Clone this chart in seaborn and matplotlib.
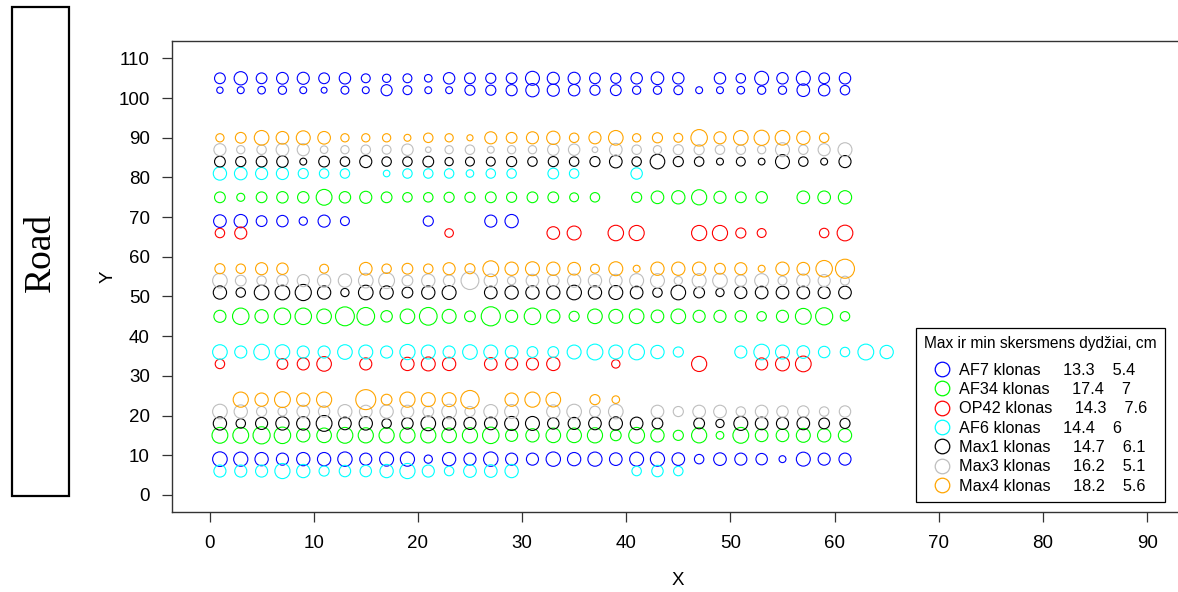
import numpy as np
import pandas as pd
import matplotlib
matplotlib.use("Agg")
import matplotlib.pyplot as plt
from matplotlib.lines import Line2D
from matplotlib.patches import Rectangle
import seaborn as sns

nan = np.nan

# Tree positions along the rows (X) – every second metre
x_pos = list(range(1, 62, 2))
x_pos_long = list(range(1, 66, 2))

# Clones, their colours and the max / min stem diameter (cm)
clones = ["AF7", "AF34", "OP42", "AF6", "Max1", "Max3", "Max4"]
colors = ["#0000FF", "#00FF00", "#FF0000", "#00FFFF", "#000000", "#BEBEBE", "#FFA500"]
max_diam = [13.3, 17.4, 14.3, 14.4, 14.7, 16.2, 18.2]
min_diam = [5.4, 7, 7.6, 6, 6.1, 5.1, 5.6]

# Stem diameters (cm) per planting row; nan = no tree
af7_y105 = [9.8, 12.1, 9.8, 10.7, 11.0, 9.8, 10.4, 8.1, 7.5, 8.1, 6.9, 10.4, 9.8, 9.2, 9.8,
            12.7, 11.0, 11.0, 9.8, 9.2, 10.4, 11.5, 10.4, nan, 10.4, 8.6, 12.7, 10.4, 12.7, 9.8, 10.4]
af7_y102 = [5.8, 6.3, 6.9, 7.5, 6.3, 5.4, 7.2, 6.3, 10.1, 8.1, 6.3, 6.3, 9.2, 9.2, 10.1,
            12.1, 11.0, 10.4, 9.2, 9.8, 7.5, 7.5, 8.1, 6.3, 6.3, 6.9, 7.5, 7.5, 11.5, 10.4, 8.6]
af7_y69 = [11.5, 12.1, 9.8, 10.4, 7.5, 11.0, 8.1, nan, nan, nan, 9.2, nan, nan, 11.0, 12.1,
           nan, nan, nan, nan, nan, nan, nan, nan, nan, nan, nan, nan, nan, nan, nan, nan]
af7_y9 = [13.3, 12.9, 12.1, 11.0, 12.1, 12.1, 13.1, 11.0, 12.7, 12.9, 7.5, 12.1, 11.0, 13.1, 11.0,
          11.0, 13.1, 12.1, 12.9, 11.5, 12.7, 12.9, 11.5, 8.6, 11.5, 11.0, 10.4, 6.3, 12.7, 11.0, 11.0]

max4_y90 = [7.5, 9.8, 13.3, 11.5, 12.7, 11.5, 7.5, 7.5, 7.5, 6.3, 8.6, 7.5, 5.6, 11.0, 9.8,
            11.0, 12.1, 8.6, 11.0, 13.3, 7.5, 9.2, 8.1, 15.0, 11.0, 13.3, 13.8, 13.3, 12.1, 8.6, nan]
max4_y57 = [9.2, 8.6, 11.0, 10.4, nan, 8.1, nan, 11.5, 8.6, 9.8, 8.6, 11.0, 9.2, 14.4, 12.1,
            12.7, 12.1, 11.5, 8.1, 12.7, 6.3, 12.1, 12.1, 12.1, 9.8, 11.0, 6.3, 12.1, 11.5, 15.0, 17.3]
max4_y24 = [nan, 13.8, 12.1, 14.4, 12.1, 13.8, nan, 18.2, 9.8, 13.8, 12.7, 12.7, 16.7, nan, 12.1,
            13.8, 13.3, nan, 9.2, 6.9, nan, nan, nan, nan, nan, nan, nan, nan, nan, nan, nan]

max3_y87 = [11.0, 7.5, 8.6, 11.5, 11.0, 6.9, 7.5, 8.6, 8.1, 10.4, 5.1, 7.5, 8.6, 6.3, 7.5,
            7.5, 10.4, 10.4, 5.2, 11.5, 8.6, 7.5, 9.2, 9.2, 8.6, 8.6, 7.5, 12.7, 8.6, 11.0, 12.7]
max3_y54 = [13.3, 9.8, 8.6, 10.4, 11.0, 12.1, 12.1, 13.3, 14.4, 9.8, 12.1, 10.4, 16.2, 12.1, 7.5,
            11.5, 10.4, 12.1, 12.1, 11.5, 12.7, 12.7, 7.5, 12.7, 13.3, 10.4, 12.7, 8.1, 12.1, 11.0, 8.1]
max3_y21 = [13.3, 12.1, 9.2, 8.1, 11.5, 10.4, 12.7, 11.5, 12.1, 11.5, 9.8, 13.3, 9.2, 12.7, 12.7,
            nan, 12.1, 13.3, 9.8, 13.3, nan, 11.5, 9.2, 11.5, 11.5, 8.6, 11.5, 10.4, 10.4, 8.6, 10.4]

max1_y84 = [9.8, 9.2, 9.8, 10.4, 6.3, 9.8, 8.6, 11.0, 8.6, 8.6, 9.8, 7.5, 8.1, 8.1, 9.2,
            8.6, 9.2, 8.6, 9.2, 11.5, 8.6, 13.3, 9.2, 8.6, 6.3, 8.1, 6.1, 12.7, 8.6, 6.3, 11.0]
max1_y51 = [12.1, 8.6, 13.3, 13.3, 14.7, 12.1, 7.5, 13.3, 12.1, 9.8, 12.1, 12.7, nan, 11.5, 12.1,
            12.1, 12.1, 13.3, 12.1, 12.7, 11.5, 8.6, 13.3, 9.8, 7.5, 11.0, 11.5, 11.5, 11.5, 11.0, 11.5]
max1_y18 = [12.1, 8.6, 11.0, 12.1, 12.1, 14.4, 11.5, 12.1, 8.6, 10.4, 13.3, 12.1, 11.0, 11.5, 12.7,
            12.7, 10.4, 11.0, 11.5, 12.1, 11.5, 9.8, nan, 9.8, 7.5, 12.7, 11.5, 11.0, 11.5, 9.8, 9.2]

af6_y81 = [12.1, 11.5, 11.0, 11.0, 9.2, 8.6, 8.6, nan, 6.0, 8.6, 8.6, 8.6, 6.9, 8.6, 8.6,
           nan, 9.8, 8.6, nan, nan, 10.4, nan, nan, nan, nan, nan, nan, nan, nan, nan, nan]
af6_y36 = [13.3, 11.0, 14.2, 13.3, 11.0, 11.0, 13.3, 12.7, 11.0, 13.8, 12.7, 11.0, 13.3, 12.7, 11.5,
           9.8, 9.8, 12.7, 14.4, 12.7, 14.2, 12.1, 9.2, nan, nan, 11.0, 14.2, 12.7, 11.5, 10.4, 8.6,
           14.4, 12.1]
af6_y6 = [11.0, 11.0, 11.0, 13.8, 12.1, 9.2, 10.4, 10.4, 12.1, 13.8, 11.0, 8.6, 11.5, 11.5, 12.1,
          nan, nan, nan, nan, nan, 8.6, 10.4, 8.6, nan, nan, nan, nan, nan, nan, nan, nan]

af34_y75 = [9.8, 7.3, 9.8, 10.4, 10.4, 14.4, 10.4, 11.0, 9.8, 8.6, 8.6, 9.2, 9.2, 9.8, 9.2,
            9.8, 9.8, 8.1, 8.6, nan, 9.2, 11.5, 12.1, 13.8, 11.0, 9.8, 10.4, nan, 11.5, 11.5, 12.1]
af34_y45 = [11.0, 15.0, 12.1, 15.0, 15.0, 13.3, 17.2, 16.1, 10.4, 13.3, 16.1, 12.7, 9.8, 17.4, 11.0,
            15.0, 12.1, 9.2, 13.3, 12.7, 13.3, 11.5, 13.3, 11.0, 11.0, 10.4, 8.6, 11.0, 14.4, 15.6, 8.6]
af34_y15 = [14.4, 14.4, 15.6, 15.0, 12.1, 13.3, 14.4, 13.8, 13.8, 13.8, 13.8, 13.3, 13.8, 15.0, 11.0,
            12.1, 13.3, 13.3, 13.8, 9.8, 14.4, 12.1, 9.2, 13.8, 7.0, 14.4, 11.5, 11.5, 12.7, 12.1, 12.1]

op42_y66 = [8.6, 11.0, nan, nan, nan, nan, nan, nan, nan, nan, nan, 7.8, nan, nan, nan,
            nan, 11.5, 12.7, nan, 14.1, 13.8, nan, nan, 13.8, 13.8, 9.2, 8.1, nan, nan, 8.6, 14.3]
op42_y33 = [8.6, nan, nan, 9.8, 11.0, 13.3, nan, 11.0, nan, 12.1, 12.7, 12.1, nan, 11.5, 11.0,
            11.0, 12.1, nan, nan, 7.6, nan, nan, nan, 13.8, nan, nan, 11.0, 12.7, 14.3, nan, nan]

rows = [
    ("AF7", 105, af7_y105), ("AF7", 102, af7_y102), ("AF7", 69, af7_y69), ("AF7", 9, af7_y9),
    ("Max4", 90, max4_y90), ("Max4", 57, max4_y57), ("Max4", 24, max4_y24),
    ("Max3", 87, max3_y87), ("Max3", 54, max3_y54), ("Max3", 21, max3_y21),
    ("Max1", 84, max1_y84), ("Max1", 51, max1_y51), ("Max1", 18, max1_y18),
    ("AF6", 81, af6_y81), ("AF6", 36, af6_y36), ("AF6", 6, af6_y6),
    ("AF34", 75, af34_y75), ("AF34", 45, af34_y45), ("AF34", 15, af34_y15),
    ("OP42", 66, op42_y66), ("OP42", 33, op42_y33),
]

records = []
for clone, yv, vals in rows:
    xs = x_pos_long if len(vals) == len(x_pos_long) else x_pos
    for xv, d in zip(xs, vals):
        if not np.isnan(d):
            records.append({"clone": clone, "X": xv, "Y": yv, "diam": d, "area": d * d})
df = pd.DataFrame(records)

sns.set_style("ticks")
plt.rcParams["font.family"] = ["Liberation Sans", "DejaVu Sans"]
plt.rcParams["text.color"] = "black"
plt.rcParams["axes.labelcolor"] = "black"

fig = plt.figure(figsize=(11.78, 5.92), dpi=100)
ax = fig.add_axes([0.14601, 0.13463, 0.8596, 0.79611])

# circle area follows diameter squared, so the drawn diameter is proportional to stem diameter
for clone, col in zip(clones, colors):
    sub = df[df["clone"] == clone]
    sns.scatterplot(data=sub, x="X", y="Y", size="area", size_norm=(0, 400), sizes=(0, 250),
                    color=col, facecolor="none", edgecolor=col, linewidth=0.8,
                    legend=False, ax=ax, zorder=3)

ax.set_xlim(-3.6, 93.6)
ax.set_ylim(-4.4, 114.4)
ax.set_xticks(np.arange(0, 91, 10))
ax.set_yticks(np.arange(0, 111, 10))
ax.tick_params(axis="both", direction="out", length=7, width=0.9, labelsize=13.5,
               color="#333333", labelcolor="black", pad=9)
ax.set_xlabel("X", fontsize=13.5, labelpad=15)
ax.set_ylabel("Y", fontsize=13.5, labelpad=1)
for side in ["left", "bottom", "top", "right"]:
    ax.spines[side].set_linewidth(1.0)
    ax.spines[side].set_color("#333333")

# legend with clone names and their diameter range
handles = [Line2D([], [], marker="o", linestyle="none", markerfacecolor="none",
                  markeredgecolor=c, markeredgewidth=0.9, markersize=10.5) for c in colors]
labels = [f"{n} klonas     {mx:g}    {mn:g}" for n, mx, mn in zip(clones, max_diam, min_diam)]
leg = ax.legend(handles, labels, title="Max ir min skersmens dydžiai, cm",
                loc="lower right", bbox_to_anchor=(1165 / 1178, 1 - 502 / 592),
                bbox_transform=fig.transFigure, borderaxespad=0, fontsize=11.7,
                title_fontsize=11.2, frameon=True, fancybox=False, framealpha=1,
                edgecolor="black", borderpad=0.5, labelspacing=0.27,
                handlelength=1.0, handletextpad=0.5)
leg.get_frame().set_linewidth(0.9)
leg._legend_box.sep = 8.5

# road on the left side of the plantation
fig.patches.append(Rectangle((12 / 1178, 1 - 496 / 592), 57 / 1178, 489 / 592,
                             transform=fig.transFigure, fill=False, edgecolor="black",
                             linewidth=1.6))
fig.text(41 / 1178, 1 - 252 / 592, "Road", rotation=90, ha="center", va="center",
         fontsize=27, family="Liberation Serif")

fig.savefig("out.png", dpi=100)
